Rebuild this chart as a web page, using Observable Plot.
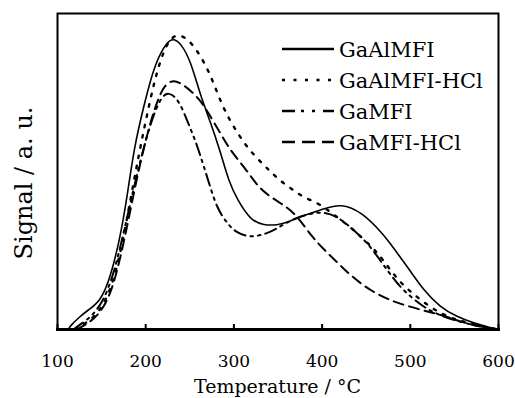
<!DOCTYPE html>
<html>
<head>
<meta charset="utf-8">
<script src="https://cdn.jsdelivr.net/npm/d3@7"></script>
<script src="https://cdn.jsdelivr.net/npm/@observablehq/plot@0.6"></script>
<style>
  html, body { margin: 0; padding: 0; background: white; }
  #chart { position: relative; width: 515px; height: 398px; }
</style>
</head>
<body>
<div id="chart"></div>
<script>
// Series names (legend order)
const seriesNames = ["GaAlMFI", "GaAlMFI-HCl", "GaMFI", "GaMFI-HCl"];

// Axis titles
const xTitle = "Temperature / \u00B0C";
const yTitle = "Signal / a. u.";

// X tick labels
const xTicks = [100, 200, 300, 400, 500, 600];

// GaAlMFI (solid)
const gaAlMFI_T = [112,115,125,134,149,160,171,179,187,199,210,225,232,240,251,262,273,285,294,304,319,334,349,362,373,400,421,446,468,478,487,500,515,534,553,572,591,600];
const gaAlMFI_S = [0,1.3,4,6,9,16.5,29,42,58,72,84,91.5,92,90.5,85,74,66,56,47,41,34.5,33,33,34,35.5,38,40,37,30.5,27,23.5,18.5,12.5,7,4,2,0.6,0];

// GaAlMFI-HCl (dotted)
const gaAlMFIHCl_T = [120,132,146,158,168,176,184,192,200,210,220,228,236,249,266,277,288,300,315,334,345,356,368,381,396,415,434,457,468,486,508,534,553,576,600];
const gaAlMFIHCl_S = [0,2,5,11,20,31,43,55,66,79,88,92,93.5,92,85,78,70,64,57.5,52,49,46.3,44,41.5,40,36,32,26,22.5,15.5,10,5,3,1.3,0];

// GaMFI (dash-dot-dot)
const gaMFI_T = [118,128,140,152,163,172,181,190,200,210,219,226,235,243,250,256,262,270,281,293,302,319,338,349,370,400,419,434,453,468,480,492,515,534,555,578,600];
const gaMFI_S = [0,2,4.5,9,17,27,38,49,60,69,74,75,73.4,69,64,60,55,48,38,33.5,30.7,29,30.4,32,35.5,37.7,35.4,32,27,21,16.5,12.3,7,4.4,2.5,1,0];

// GaMFI-HCl (dashed)
const gaMFIHCl_T = [122,135,148,160,170,180,190,200,210,220,230,240,251,262,270,285,296,315,330,353,370,389,407,423,441,464,487,515,538,560,580,600];
const gaMFIHCl_S = [0,2,5,11,21,34,48,60,70,77,79,78,75.6,72.5,69,62,56.6,50.3,44,40,36.7,29,24,19.6,15,10.8,8.2,6,4.4,2.2,0.8,0];

const toRows = (T, S) => T.map((t, i) => ({t, s: S[i]}));
const series = [
  {name: seriesNames[0], rows: toRows(gaAlMFI_T, gaAlMFI_S), dash: null, width: 1.6},
  {name: seriesNames[1], rows: toRows(gaAlMFIHCl_T, gaAlMFIHCl_S), dash: "2.5,8", width: 2.4},
  {name: seriesNames[2], rows: toRows(gaMFI_T, gaMFI_S), dash: "12,5,2.5,5,2.5,5", width: 2},
  {name: seriesNames[3], rows: toRows(gaMFIHCl_T, gaMFIHCl_S), dash: "10,6", width: 2}
];
const legendDash = [null, "3,8.5", "13,6,3,8,3,8", "13,7"];

const W = 515, H = 398, mL = 57, mR = 17, mT = 13, mB = 69;
const plotH = H - mT - mB;
const FONT = "'DejaVu Serif', serif";

const plot = Plot.plot({
  width: W,
  height: H,
  marginLeft: mL,
  marginRight: mR,
  marginTop: mT,
  marginBottom: mB,
  style: {fontFamily: FONT, fontSize: "17px", color: "black", background: "white"},
  x: {domain: [100, 600]},
  y: {domain: [0, 100]},
  marks: [
    ...series.map(s => Plot.line(s.rows, {
      x: "t", y: "s", curve: "basis",
      stroke: "black", strokeWidth: s.width,
      strokeDasharray: s.dash
    })),
    Plot.tickX(xTicks, {x: d => d, insetTop: plotH - 5, stroke: "black", strokeWidth: 2}),
    Plot.axisX(xTicks, {tickSize: 0, tickPadding: 25, fontSize: 17, label: null}),
    Plot.axisY({ticks: [], label: null}),
    Plot.frame({stroke: "black", strokeWidth: 2}),
    Plot.frame({anchor: "bottom", stroke: "black", strokeWidth: 3})
  ]
});

document.getElementById("chart").appendChild(plot);

const svg = d3.select(plot);
// Axis titles
svg.append("text")
  .attr("x", (mL + W - mR) / 2).attr("y", 393)
  .attr("text-anchor", "middle").attr("font-family", FONT).attr("font-size", 19)
  .attr("fill", "black").text(xTitle);
svg.append("text")
  .attr("transform", "translate(32,183) rotate(-90)")
  .attr("text-anchor", "middle").attr("font-family", FONT).attr("font-size", 24)
  .attr("fill", "black").text(yTitle);

// Legend inside the frame, drawn from the series definitions
const lg = svg.append("g").attr("font-family", FONT).attr("font-size", 21);
series.forEach((s, i) => {
  const cy = 49 + i * 31;
  lg.append("line")
    .attr("x1", 282).attr("x2", 334).attr("y1", cy).attr("y2", cy)
    .attr("stroke", "black").attr("stroke-width", 2.4)
    .attr("stroke-dasharray", legendDash[i]);
  lg.append("text")
    .attr("x", 339).attr("y", cy).attr("dy", "0.36em")
    .attr("text-anchor", "start").attr("fill", "black")
    .text(s.name);
});
</script>
</body>
</html>
